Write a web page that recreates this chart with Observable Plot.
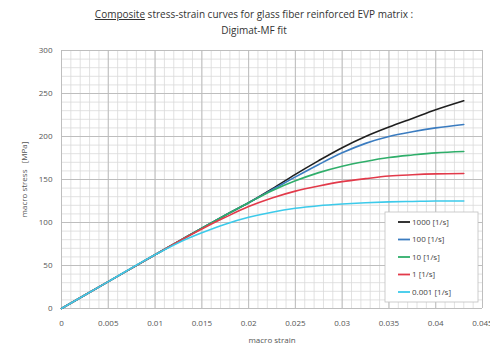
<!DOCTYPE html>
<html>
<head>
<meta charset="utf-8">
<script src="https://cdn.jsdelivr.net/npm/d3@7"></script>
<script src="https://cdn.jsdelivr.net/npm/@observablehq/plot@0.6"></script>
<style>
  html, body { margin: 0; padding: 0; background: #fff; }
  body { width: 490px; height: 351px; overflow: hidden; font-family: "Open Sans", "Liberation Sans", sans-serif; }
  #title { height: 40px; box-sizing: border-box; padding-top: 6px; padding-left: 18px; text-align: center; font-size: 10px; line-height: 16px; color: #333; }
  #title u { text-decoration: underline; }
</style>
</head>
<body>
<div id="title"><u>Composite</u> stress-strain curves for glass fiber reinforced EVP matrix :<br>Digimat-MF fit</div>
<div id="chart"></div>
<script>
const strain = [0, 0.005, 0.01, 0.0125, 0.015, 0.0175, 0.02, 0.0225, 0.025, 0.0275, 0.03, 0.0325, 0.035, 0.0375, 0.04, 0.043];
const s1000 = [0, 31.25, 62.5, 78, 93.5, 108.5, 123, 139, 156, 172, 187, 200, 211, 221, 231, 241.5];
const s100  = [0, 31.25, 62.5, 78, 93.5, 108.5, 123, 138, 153, 167.5, 181, 192, 200, 205.5, 210, 214];
const s10   = [0, 31.25, 62.5, 78, 93.5, 108.5, 123, 137, 148.5, 158, 165.5, 171, 175.5, 178.5, 181, 182.5];
const s1    = [0, 31.25, 62.5, 78, 92.5, 106, 118.5, 128.5, 136.5, 142.5, 147.5, 151, 154, 155.5, 156.5, 157];
const s0001 = [0, 31.25, 62.5, 76.5, 88, 98, 106, 112, 116.5, 119.5, 121.5, 123, 124, 124.5, 125, 125];
const seriesNames = ["1000 [1/s]", "100 [1/s]", "10 [1/s]", "1 [1/s]", "0.001 [1/s]"];
const seriesValues = [s1000, s100, s10, s1, s0001];
const seriesColors = ["#1f1f1f", "#3b7cc0", "#2fae6a", "#e23a4a", "#3ccaea"];
const xTicks = [0, 0.005, 0.01, 0.015, 0.02, 0.025, 0.03, 0.035, 0.04, 0.045];
const yTicks = [0, 50, 100, 150, 200, 250, 300];
const xMinor = d3.range(0, 46).map(i => +(i / 1000).toFixed(3));
const yMinor = d3.range(0, 31).map(i => i * 10);

const data = [];
seriesNames.forEach((name, k) => {
  strain.forEach((x, i) => data.push({series: name, strain: x, stress: seriesValues[k][i]}));
});

const W = 490, H = 311;
const mL = 61, mR = 8, mT = 10, mB = 43;

const chart = Plot.plot({
  width: W, height: H,
  marginLeft: mL, marginRight: mR, marginTop: mT, marginBottom: mB,
  style: {fontFamily: "'Open Sans', 'Liberation Sans', sans-serif", fontSize: "8px", color: "#444", background: "#fff", overflow: "visible"},
  x: {domain: [0, 0.045]},
  y: {domain: [0, 300]},
  color: {domain: seriesNames, range: seriesColors},
  marks: [
    Plot.ruleX(xMinor, {stroke: "#d9d9d9", strokeWidth: 0.8}),
    Plot.ruleY(yMinor, {stroke: "#d9d9d9", strokeWidth: 0.8}),
    Plot.ruleX(xTicks, {stroke: "#bababa", strokeWidth: 0.9}),
    Plot.ruleY(yTicks, {stroke: "#bababa", strokeWidth: 0.9}),
    Plot.axisX({ticks: xTicks, tickFormat: d => String(d), tickSize: 0, tickPadding: 12, label: "macro strain", labelAnchor: "center", labelOffset: 34, labelArrow: "none", fill: "#555"}),
    Plot.axisY({ticks: yTicks, tickFormat: d => String(d), tickSize: 0, tickPadding: 9, label: "macro stress   [MPa]", labelAnchor: "center", labelOffset: 40, labelArrow: "none", fill: "#555"}),
    Plot.line(data, {x: "strain", y: "stress", z: "series", stroke: "series", strokeWidth: 1.6, curve: "monotone-x"})
  ]
});
document.getElementById("chart").appendChild(chart);

// legend inside the plot area
const svg = d3.select(chart);
const lx = 385, ly = 172, lw = 93, lh = 90;
const g = svg.append("g").attr("text-anchor", "start");
g.append("rect").attr("x", lx).attr("y", ly).attr("width", lw).attr("height", lh)
  .attr("fill", "#fff").attr("stroke", "#c0c0c0").attr("stroke-width", 0.8);
seriesNames.forEach((name, i) => {
  const y = ly + 10 + i * 17.5;
  g.append("line").attr("x1", lx + 13).attr("x2", lx + 25).attr("y1", y).attr("y2", y)
    .attr("stroke", seriesColors[i]).attr("stroke-width", 1.8);
  g.append("text").attr("x", lx + 27).attr("y", y).attr("dy", "0.35em").attr("text-anchor", "start")
    .attr("font-size", 8).attr("fill", "#444").text(name);
});
</script>
</body>
</html>
